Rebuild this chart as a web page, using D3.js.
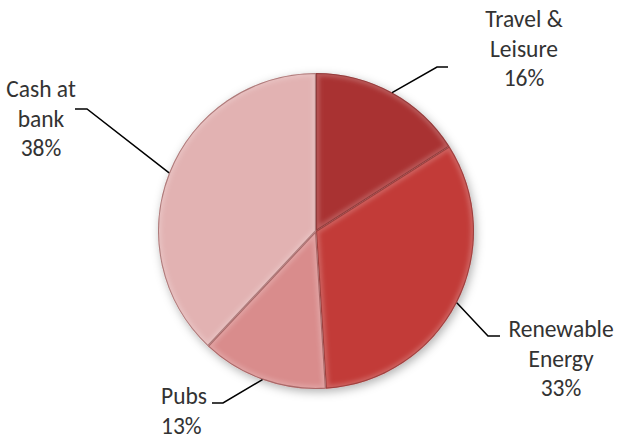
<!DOCTYPE html>
<html>
<head>
<meta charset="utf-8">
<script src="https://cdn.jsdelivr.net/npm/d3@7"></script>
<style>
  html, body { margin: 0; padding: 0; background: #ffffff; }
  svg { display: block; }
  .lbl { font-family: Carlito, Calibri, Lato, "Open Sans", sans-serif; font-size: 23.5px; fill: #333333; }
</style>
</head>
<body>
<svg id="chart" width="619" height="440"></svg>
<script>
// Portfolio allocation, clockwise from 12 o'clock
const categories = ["Travel & Leisure", "Renewable Energy", "Pubs", "Cash at bank"];
const values = [16, 33, 13, 38];
const labelLines = [["Travel &", "Leisure"], ["Renewable", "Energy"], ["Pubs"], ["Cash at", "bank"]];
const sliceColors = ["#a93131", "#c23a38", "#d98c8c", "#e2b2b2"];

const W = 619, H = 440;
const cx = 316, cy = 231, R = 158;

const svg = d3.select("#chart");
const defs = svg.append("defs");

const shadow = defs.append("filter").attr("id", "pieShadow")
  .attr("x", "-20%").attr("y", "-20%").attr("width", "140%").attr("height", "140%");
shadow.append("feDropShadow")
  .attr("dx", 2).attr("dy", 3).attr("stdDeviation", 5)
  .attr("flood-color", "#000").attr("flood-opacity", 0.3);

const soft = defs.append("filter").attr("id", "edgeBlur");
soft.append("feGaussianBlur").attr("stdDeviation", 2);

const pie = d3.pie().sort(null).value(d => d.value);
const arc = d3.arc().innerRadius(0).outerRadius(R);
const data = pie(categories.map((c, i) => ({ name: c, value: values[i], idx: i })));

const g = svg.append("g").attr("transform", `translate(${cx},${cy})`);

// clip paths so bevel highlights stay inside each slice
data.forEach((d, i) => {
  defs.append("clipPath").attr("id", "clip" + i)
    .append("path").attr("d", arc(d));
});

const base = g.append("g").attr("filter", "url(#pieShadow)");
base.selectAll("path.slice")
  .data(data).join("path")
  .attr("class", "slice")
  .attr("d", arc)
  .attr("fill", d => sliceColors[d.data.idx]);

// soft bevel highlight along each slice's edges
const bevel = g.append("g");
data.forEach((d, i) => {
  const s = bevel.append("g").attr("clip-path", `url(#clip${i})`);
  s.append("path").attr("d", arc(d))
    .attr("fill", "none").attr("stroke", "#ffffff")
    .attr("stroke-opacity", 0.2).attr("stroke-width", 7)
    .attr("filter", "url(#edgeBlur)");
  s.append("path").attr("d", arc(d))
    .attr("fill", "none").attr("stroke", "#5a1414")
    .attr("stroke-opacity", 0.4).attr("stroke-width", 2.2);
});

// leader lines: rim point at slice mid-angle -> elbow -> short horizontal
const leaderLayout = [
  { elbow: [437, 67], end: [448, 67] },
  { elbow: [488, 336], end: [500, 336] },
  { elbow: [223, 403], end: [212, 403] },
  { elbow: [87, 109], end: [75, 109] }
];
const textLayout = [
  { x: 524, y: 27, anchor: "middle" },
  { x: 561, y: 337, anchor: "middle" },
  { x: 161, y: 404, anchor: "start" },
  { x: 41, y: 97, anchor: "middle" }
];
const lineGap = 29.5;

data.forEach((d, i) => {
  const mid = (d.startAngle + d.endAngle) / 2;
  const sx = cx + R * Math.sin(mid);
  const sy = cy - R * Math.cos(mid);
  const L = leaderLayout[i];
  svg.append("path")
    .attr("d", d3.line()([[sx, sy], L.elbow, L.end]))
    .attr("fill", "none").attr("stroke", "#000").attr("stroke-width", 1.5);

  const t = textLayout[i];
  const lines = labelLines[i].concat([d3.format(".0%")(d.data.value / 100)]);
  const text = svg.append("text").attr("class", "lbl").attr("text-anchor", t.anchor);
  lines.forEach((ln, k) => {
    text.append("tspan").attr("x", t.x).attr("y", t.y + k * lineGap).text(ln);
  });
});
</script>
</body>
</html>
